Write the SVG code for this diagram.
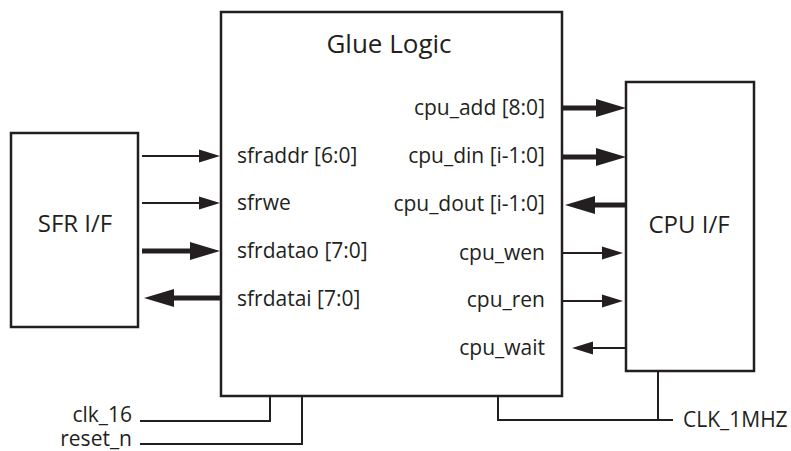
<svg xmlns="http://www.w3.org/2000/svg" width="791" height="451" viewBox="0 0 791 451">
  <style>
    .box { fill: #ffffff; stroke: #231f20; stroke-width: 2.5; }
    .thin { stroke: #231f20; stroke-width: 2; fill: none; }
    .thick { stroke: #231f20; stroke-width: 5; fill: none; }
    .wire { stroke: #231f20; stroke-width: 2; fill: none; }
    .sig { font-family: "Open Sans", "Liberation Sans", sans-serif; font-size: 21px; fill: #231f20; }
    .title { font-family: "Open Sans", "Liberation Sans", sans-serif; font-size: 24px; fill: #231f20; }
    .main { font-family: "Open Sans", "Liberation Sans", sans-serif; font-size: 26px; fill: #231f20; }
  </style>
  <defs>
    <!-- arrowheads drawn from the base (refX=0) so the shaft ends at the base -->
    <marker id="headThin" markerUnits="userSpaceOnUse" markerWidth="21" markerHeight="13" refX="0" refY="6.5" orient="auto" overflow="visible">
      <path d="M0,0 L21,6.5 L0,13 Z" fill="#231f20"/>
    </marker>
    <marker id="headThick" markerUnits="userSpaceOnUse" markerWidth="30" markerHeight="18" refX="0" refY="9" orient="auto" overflow="visible">
      <path d="M0,0 L30,9 L0,18 Z" fill="#231f20"/>
    </marker>
  </defs>

  <!-- SFR interface block -->
  <g id="sfr-if">
    <rect class="box" x="11" y="133" width="127" height="194"/>
    <text class="title" x="75" y="232" text-anchor="middle">SFR I/F</text>
  </g>

  <!-- glue logic block with its port labels -->
  <g id="glue-logic">
    <rect class="box" x="221" y="12" width="341" height="384"/>
    <text class="main" x="389" y="53" text-anchor="middle">Glue Logic</text>
    <text class="sig" x="237" y="163">sfraddr [6:0]</text>
    <text class="sig" x="237" y="210">sfrwe</text>
    <text class="sig" x="237" y="258">sfrdatao [7:0]</text>
    <text class="sig" x="237" y="306">sfrdatai [7:0]</text>
    <text class="sig" x="545" y="115" text-anchor="end">cpu_add [8:0]</text>
    <text class="sig" x="545" y="163" text-anchor="end">cpu_din [i-1:0]</text>
    <text class="sig" x="545" y="211" text-anchor="end">cpu_dout [i-1:0]</text>
    <text class="sig" x="545" y="260" text-anchor="end">cpu_wen</text>
    <text class="sig" x="545" y="307" text-anchor="end">cpu_ren</text>
    <text class="sig" x="545" y="355" text-anchor="end">cpu_wait</text>
  </g>

  <!-- CPU interface block -->
  <g id="cpu-if">
    <rect class="box" x="626" y="82" width="128" height="289"/>
    <text class="title" x="689" y="233" text-anchor="middle">CPU I/F</text>
  </g>

  <!-- clock and reset inputs -->
  <g id="clk-16">
    <text class="sig" x="132" y="422" text-anchor="end">clk_16</text>
  </g>
  <g id="reset-n">
    <text class="sig" x="132" y="446" text-anchor="end">reset_n</text>
  </g>
  <g id="clk-1mhz">
    <text class="sig" x="683" y="427">CLK_1MHZ</text>
  </g>

  <!-- signal connectors -->
  <g id="connectors">
    <line class="thin" x1="142" y1="156" x2="199" y2="156" marker-end="url(#headThin)"/>
    <line class="thin" x1="142" y1="203" x2="199" y2="203" marker-end="url(#headThin)"/>
    <line class="thick" x1="142" y1="251" x2="190" y2="251" marker-end="url(#headThick)"/>
    <line class="thick" x1="221" y1="298" x2="174" y2="298" marker-end="url(#headThick)"/>

    <line class="thick" x1="562" y1="108" x2="596" y2="108" marker-end="url(#headThick)"/>
    <line class="thick" x1="562" y1="157" x2="596" y2="157" marker-end="url(#headThick)"/>
    <line class="thick" x1="626" y1="205" x2="595" y2="205" marker-end="url(#headThick)"/>
    <line class="thin" x1="562" y1="253" x2="602" y2="253" marker-end="url(#headThin)"/>
    <line class="thin" x1="562" y1="301" x2="602" y2="301" marker-end="url(#headThin)"/>
    <line class="thin" x1="626" y1="348" x2="593" y2="348" marker-end="url(#headThin)"/>

    <polyline class="wire" points="140,421 270,421 270,396"/>
    <polyline class="wire" points="140,444 302,444 302,396"/>
    <polyline class="wire" points="498,396 498,420 673,420"/>
    <line class="wire" x1="658" y1="371" x2="658" y2="420"/>
  </g>
</svg>
